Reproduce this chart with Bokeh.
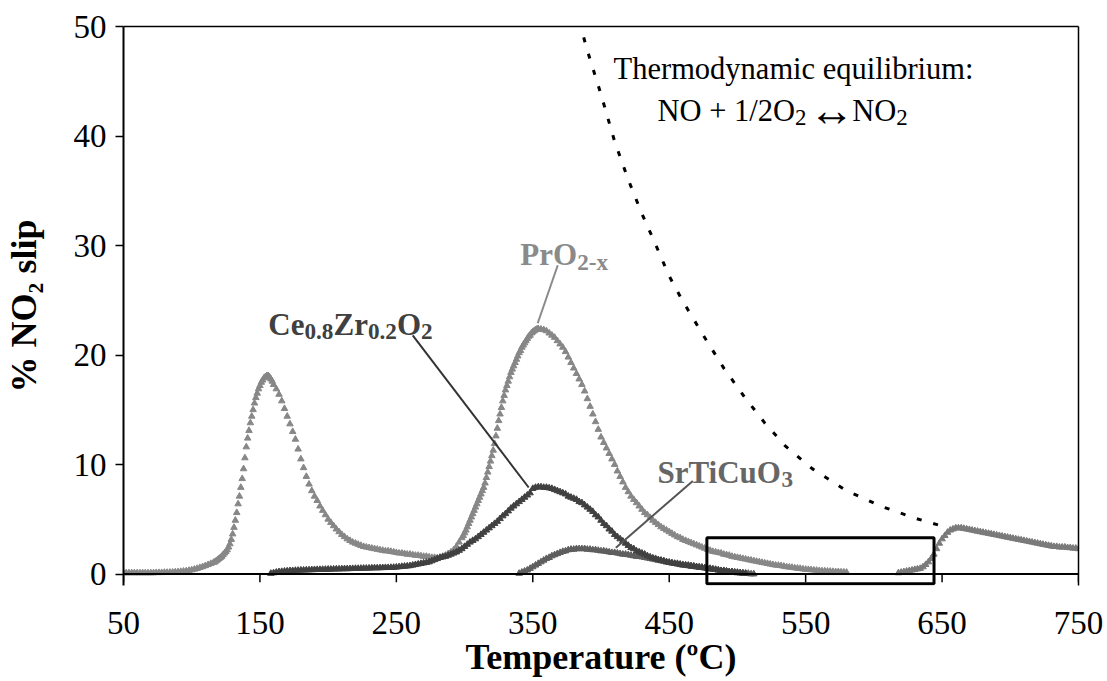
import numpy as np
from bokeh.plotting import figure
from bokeh.models import Label, BoxAnnotation, FixedTicker, Range1d, LinearAxis, Span
from bokeh.embed import file_html
from bokeh.resources import INLINE

# ---------------- data ----------------
x_ticks = [50, 150, 250, 350, 450, 550, 650, 750]
y_ticks = [0, 10, 20, 30, 40, 50]

# PrO2-x : temperature sampling segments (start, stop, step) and % NO2
pro2_segments = [(50, 116, 2), (117, 160, 1), (162, 298, 2), (299, 354, 1), (356, 580, 2)]
pro2_pct = [
    0.1, 0.1, 0.1, 0.1, 0.1, 0.1, 0.1, 0.1, 0.1, 0.1,
    0.1, 0.1, 0.12, 0.12, 0.12, 0.14, 0.14, 0.15, 0.16, 0.18,
    0.2, 0.22, 0.25, 0.28, 0.32, 0.37, 0.43, 0.5, 0.58, 0.66,
    0.75, 0.85, 0.95, 1.05,
    1.1, 1.2, 1.3, 1.4, 1.5, 1.6, 1.75, 1.9, 2.05, 2.2,
    2.45, 2.75, 3.15, 3.65, 4.25, 4.9, 5.6, 6.4, 7.1, 7.9,
    8.7, 9.6, 10.6, 11.6, 12.4, 13.1, 13.8, 14.4, 15.0, 15.6,
    16.1, 16.5, 16.9, 17.2, 17.5, 17.7, 17.9, 18.0, 18.1, 18.1,
    18.0, 17.8, 17.6, 17.3,
    16.9, 16.4, 15.8, 15.1, 14.4, 13.7, 13.0, 12.3, 11.4, 10.5,
    9.7, 8.9, 8.2, 7.6, 7.1, 6.7, 6.2, 5.8, 5.4, 5.0,
    4.7, 4.4, 4.1, 3.85, 3.6, 3.4, 3.2, 3.05, 2.9, 2.8,
    2.7, 2.6, 2.5, 2.45, 2.4, 2.35, 2.3, 2.25, 2.2, 2.15,
    2.1, 2.1, 2.05, 2.0, 1.95, 1.9, 1.9, 1.85, 1.8, 1.8,
    1.75, 1.7, 1.7, 1.65, 1.6, 1.6, 1.55, 1.5, 1.5, 1.45,
    1.5, 1.6, 1.7, 1.85, 2.0, 2.2, 2.5, 2.9, 3.3,
    3.5, 3.75, 4.0, 4.3, 4.6, 4.9, 5.2, 5.5, 5.8, 6.1,
    6.4, 6.7, 7.0, 7.3, 7.6, 7.9, 8.3, 8.8, 9.3, 9.8,
    10.3, 10.8, 11.3, 11.9, 12.6, 13.3, 14.0, 14.6, 15.2, 15.8,
    16.3, 16.8, 17.2, 17.6, 18.0, 18.4, 18.7, 19.0, 19.3, 19.6,
    19.9, 20.2, 20.4, 20.7, 20.9, 21.1, 21.3, 21.5, 21.7, 21.8,
    22.0, 22.1, 22.2, 22.3, 22.35, 22.4,
    22.35, 22.3, 22.2, 22.0, 21.8, 21.6, 21.3, 21.0, 20.7, 20.3,
    19.8, 19.3, 18.8, 18.3, 17.8, 17.3, 16.7, 16.0, 15.3, 14.6,
    13.9, 13.2, 12.5, 12.0, 11.5, 11.0, 10.5, 10.0, 9.4, 8.9,
    8.4, 7.9, 7.5, 7.1, 6.8, 6.5, 6.2, 5.9, 5.6, 5.4,
    5.15, 4.9, 4.7, 4.5, 4.3, 4.15, 4.0, 3.85, 3.7, 3.55,
    3.4, 3.3, 3.15, 3.05, 2.95, 2.85, 2.75, 2.65, 2.55, 2.45,
    2.35, 2.25, 2.15, 2.05, 2.0, 1.95, 1.9, 1.8, 1.75, 1.7,
    1.6, 1.55, 1.5, 1.45, 1.4, 1.35, 1.3, 1.25, 1.2, 1.15,
    1.1, 1.05, 1.0, 0.95, 0.9, 0.85, 0.8, 0.78, 0.75, 0.7,
    0.65, 0.62, 0.6, 0.55, 0.52, 0.5, 0.45, 0.42, 0.4, 0.38,
    0.35, 0.33, 0.3, 0.28, 0.27, 0.25, 0.24, 0.22, 0.2, 0.2,
    0.18, 0.17, 0.15,
]
# high-temperature part (all catalysts)
hi_segments = [(618, 750, 2)]
hi_pct = [
    0.1, 0.15, 0.2, 0.25, 0.3, 0.35, 0.4, 0.45, 0.5, 0.65,
    0.85, 1.1, 1.4, 1.8, 2.3, 2.8, 3.2, 3.5, 3.8, 4.0,
    4.1, 4.2, 4.2, 4.2, 4.15, 4.1, 4.05, 4.0, 3.95, 3.9,
    3.85, 3.8, 3.75, 3.7, 3.65, 3.6, 3.55, 3.5, 3.45, 3.4,
    3.35, 3.3, 3.25, 3.2, 3.15, 3.1, 3.05, 3.0, 2.95, 2.9,
    2.85, 2.8, 2.75, 2.7, 2.65, 2.6, 2.55, 2.5, 2.5, 2.45,
    2.45, 2.45, 2.4, 2.4, 2.35, 2.35, 2.3,
]

# Ce0.8Zr0.2O2
cezr_segments = [(158, 506, 2)]
cezr_pct = [
    0.05, 0.1, 0.15, 0.2, 0.22, 0.25, 0.27, 0.3, 0.3, 0.32,
    0.33, 0.35, 0.35, 0.36, 0.37, 0.38, 0.39, 0.4, 0.4, 0.41,
    0.42, 0.43, 0.43, 0.44, 0.45, 0.45, 0.46, 0.47, 0.47, 0.48,
    0.49, 0.5, 0.5, 0.51, 0.52, 0.52, 0.53, 0.54, 0.55, 0.55,
    0.56, 0.57, 0.58, 0.58, 0.59, 0.6, 0.62, 0.65, 0.68, 0.7,
    0.72, 0.75, 0.8, 0.85, 0.9, 0.95, 1.0, 1.05, 1.1, 1.2,
    1.3, 1.4, 1.5, 1.55, 1.6, 1.7, 1.8, 1.9, 2.0, 2.15,
    2.3, 2.5, 2.7, 2.9, 3.05, 3.2, 3.4, 3.6, 3.8, 4.0,
    4.2, 4.4, 4.6, 4.8, 5.05, 5.3, 5.5, 5.75, 6.0, 6.2,
    6.4, 6.6, 6.8, 7.0, 7.2, 7.4,
    7.8, 7.9, 7.95, 7.95, 7.9, 7.9, 7.85, 7.8, 7.7, 7.6,
    7.5, 7.4, 7.3, 7.1, 7.0, 6.9, 6.8, 6.6, 6.5, 6.3,
    6.1, 5.9, 5.7, 5.4, 5.2, 4.9, 4.6, 4.4, 4.1, 3.9,
    3.6, 3.4, 3.2, 3.0, 2.8, 2.6, 2.4, 2.3, 2.1, 2.0,
    1.9, 1.8, 1.65, 1.55, 1.45, 1.4, 1.3, 1.25, 1.2, 1.1,
    1.05, 1.0, 0.95, 0.9, 0.85, 0.8, 0.8, 0.75, 0.7, 0.7,
    0.65, 0.6, 0.6, 0.55, 0.5, 0.5, 0.45, 0.4, 0.35, 0.3,
    0.3, 0.25, 0.2, 0.2, 0.15, 0.1, 0.1, 0.05, 0.05,
]

# SrTiCuO3
srti_segments = [(340, 512, 2)]
srti_pct = [
    0.05, 0.15, 0.25, 0.35, 0.5, 0.65, 0.8, 0.95, 1.1, 1.25,
    1.4, 1.5, 1.65, 1.75, 1.85, 1.95, 2.05, 2.1, 2.2, 2.25,
    2.25, 2.3, 2.3, 2.3, 2.3, 2.25, 2.25, 2.2, 2.2, 2.15,
    2.1, 2.1, 2.05, 2.0, 1.95, 1.95, 1.9, 1.85, 1.8, 1.8,
    1.75, 1.7, 1.65, 1.6, 1.6, 1.55, 1.5, 1.45, 1.4, 1.35,
    1.3, 1.25, 1.2, 1.15, 1.1, 1.05, 1.0, 0.95, 0.95, 0.9,
    0.85, 0.8, 0.8, 0.75, 0.7, 0.65, 0.65, 0.6, 0.55, 0.5,
    0.45, 0.4, 0.4, 0.35, 0.3, 0.3, 0.25, 0.2, 0.2, 0.15,
    0.15, 0.1, 0.1, 0.05, 0.05, 0.0, 0.0,
]

# thermodynamic equilibrium curve
eq_temp = [384, 390, 400, 410, 420, 430, 440, 450, 460, 475, 490, 505, 520, 535, 555, 580, 605, 630, 655]
eq_pct = [50.5, 47.8, 43.8, 39.5, 36.0, 32.9, 30.1, 27.2, 24.9, 21.8, 18.8, 16.2, 13.8, 11.7, 9.6, 7.6, 6.2, 5.1, 4.2]

# annotation leader lines (label -> curve), data units
lead_pro2 = [(368.3, 28.2), (353.6, 22.9)]
lead_cezr = [(262.0, 21.8), (347.0, 7.9)]
lead_srti = [(467.3, 8.5), (410.9, 2.4)]
# highlight rectangle (temperature window, % range)
box_t = (477.6, 644.1)
box_pct = (-0.9, 3.3)

# ---------------- helpers ----------------
def temps(segments):
    out = []
    for a, b, s in segments:
        out.extend(np.arange(a, b + s / 2.0, s).tolist())
    return out

REG = {' ': 250, '%': 833, '+': 564, '-': 333, '.': 250, '/': 278, ':': 278,
       'N': 722, 'O': 722, 'T': 611, 'a': 444, 'b': 500, 'c': 444, 'd': 500,
       'e': 444, 'h': 500, 'i': 278, 'l': 278, 'm': 778, 'n': 500, 'o': 500,
       'q': 500, 'r': 333, 'u': 500, 'y': 500, 's': 389, 'p': 500, 'x': 500,
       '\u2194': 1000}
BOLD = {' ': 250, '%': 1000, '-': 333, '.': 250, 'C': 722, 'N': 722, 'O': 778,
        'P': 611, 'S': 556, 'T': 667, 'Z': 667, 'e': 444, 'i': 278, 'l': 278,
        'p': 556, 'r': 444, 's': 389, 'u': 556, 'x': 500}
FONT = "Liberation Serif"

def text_w(s, table, size):
    return sum(table.get(ch, 500) for ch in s) * size / 1000.0

def rich(p, x, y, pieces, size, color, bold, sub_ratio=0.75, sub_drop=0.22):
    """pieces: (text, is_subscript[, glyph_scale, dx_px, dy_px])"""
    table = BOLD if bold else REG
    adv = 0.0
    for piece in pieces:
        txt, sub = piece[0], piece[1]
        gscale = piece[2] if len(piece) > 2 else 1.0
        dx = piece[3] if len(piece) > 3 else 0.0
        dy = piece[4] if len(piece) > 4 else 0.0
        fs = size * sub_ratio if sub else size
        drop = size * sub_drop if sub else 0.0
        lead = len(txt) - len(txt.lstrip(' '))
        adv += text_w(' ' * lead, table, fs)
        core = txt.strip(' ')
        if core:
            p.add_layout(Label(x=x, y=y, x_offset=adv + dx, y_offset=-drop + dy, text=core,
                               text_font=FONT, text_font_size=f"{fs * gscale:.1f}px",
                               text_font_style="bold" if bold else "normal",
                               text_color=color, text_baseline="alphabetic", text_align="left"))
        adv += text_w(txt.lstrip(' '), table, fs)

# ---------------- figure ----------------
p = figure(width=1107, height=681, output_backend="svg", toolbar_location=None,
           x_range=Range1d(50, 750), y_range=Range1d(-1.05, 50),
           min_border_left=123, min_border_right=29, min_border_top=26, min_border_bottom=96)
p.background_fill_color = "white"
p.border_fill_color = "white"
p.outline_line_color = None
p.xgrid.visible = False
p.ygrid.visible = False

# y axis
p.yaxis.ticker = FixedTicker(ticks=y_ticks)
p.yaxis.axis_line_color = "black"
p.yaxis.axis_line_width = 2
p.yaxis.major_tick_line_color = "black"
p.yaxis.major_tick_line_width = 1.5
p.yaxis.major_tick_in = 0
p.yaxis.major_tick_out = 8
p.yaxis.minor_tick_line_color = None
p.yaxis.major_label_text_font = FONT
p.yaxis.major_label_text_font_size = "33px"
p.yaxis.major_label_text_color = "black"
p.yaxis.major_label_standoff = 9
p.yaxis.axis_label = "% NO\u2082 slip"
p.yaxis.axis_label_standoff = 27
p.yaxis.axis_label_text_font = FONT
p.yaxis.axis_label_text_font_size = "36px"
p.yaxis.axis_label_text_font_style = "bold"
p.yaxis.axis_label_text_color = "black"

# x axis: tick labels and title at the frame bottom (line and ticks drawn at 0 %)
xa = p.xaxis[0]
xa.ticker = FixedTicker(ticks=x_ticks)
xa.axis_line_color = None
xa.major_tick_line_color = None
xa.minor_tick_line_color = None
xa.major_tick_in = 0
xa.major_tick_out = 0
xa.major_label_standoff = 26
xa.major_label_text_font = FONT
xa.major_label_text_font_size = "33px"
xa.major_label_text_color = "black"
xa.axis_label = "Temperature (\u00baC)"
xa.axis_label_standoff = 0
xa.axis_label_text_font = FONT
xa.axis_label_text_font_size = "36px"
xa.axis_label_text_font_style = "bold"
xa.axis_label_text_color = "black"

# x axis line at 0 % and its outward ticks
p.add_layout(Span(location=0, dimension="width", line_color="black", line_width=2))
tick_len = 0.75  # in % units (~8 px)
p.segment(x0=x_ticks, y0=[0] * len(x_ticks), x1=x_ticks, y1=[-tick_len] * len(x_ticks),
          line_color="black", line_width=1.5)

# frame top and right edges
for loc in ("above", "right"):
    edge = LinearAxis(ticker=FixedTicker(ticks=[]), axis_line_color="black", axis_line_width=1.5,
                      major_tick_line_color=None, minor_tick_line_color=None)
    p.add_layout(edge, loc)

PR_COL = "#878787"
CE_COL = "#404040"
SR_COL = "#5e5e5e"

p.scatter(temps(pro2_segments), pro2_pct, marker="triangle", size=6.5,
          fill_color=PR_COL, line_color=PR_COL)
p.scatter(temps(hi_segments), hi_pct, marker="triangle", size=6.5,
          fill_color="#7a7a7a", line_color="#7a7a7a")
p.scatter(temps(srti_segments), srti_pct, marker="triangle", size=6.5,
          fill_color=SR_COL, line_color=SR_COL)
p.scatter(temps(cezr_segments), cezr_pct, marker="triangle", size=6.5,
          fill_color=CE_COL, line_color=CE_COL)

p.line(eq_temp, eq_pct, line_color="black", line_width=3, line_dash="5 12", line_cap="butt")

for pts, col in ((lead_pro2, "#8a8a8a"), (lead_cezr, "#333333"), (lead_srti, "#555555")):
    p.segment(x0=[pts[0][0]], y0=[pts[0][1]], x1=[pts[1][0]], y1=[pts[1][1]],
              line_color=col, line_width=2)

p.add_layout(BoxAnnotation(left=box_t[0], right=box_t[1], bottom=box_pct[0], top=box_pct[1],
                           fill_alpha=0, line_color="black", line_alpha=1.0, line_width=3))

# labels
rich(p, 340.9, 29.16, [("PrO", False), ("2-x", True)], 31, "#8a8a8a", True)
rich(p, 156.1, 22.76, [("Ce", False), ("0.8", True), ("Zr", False), ("0.2", True),
                       ("O", False), ("2", True)], 31, "#404040", True)
rich(p, 441.4, 9.23, [("SrTiCuO", False), ("3", True)], 31, "#666666", True)
rich(p, 409.2, 46.16, [("Thermodynamic equilibrium:", False)], 30.5, "black", False)
rich(p, 441.4, 42.32, [("NO + 1/2O", False), ("2", True), (" ", False),
                       ("\u2194", False, 1.5, -5.0, 0.0), (" NO", False), ("2", True)],
     30.5, "black", False)

open("out.html", "w").write(file_html(p, INLINE))
